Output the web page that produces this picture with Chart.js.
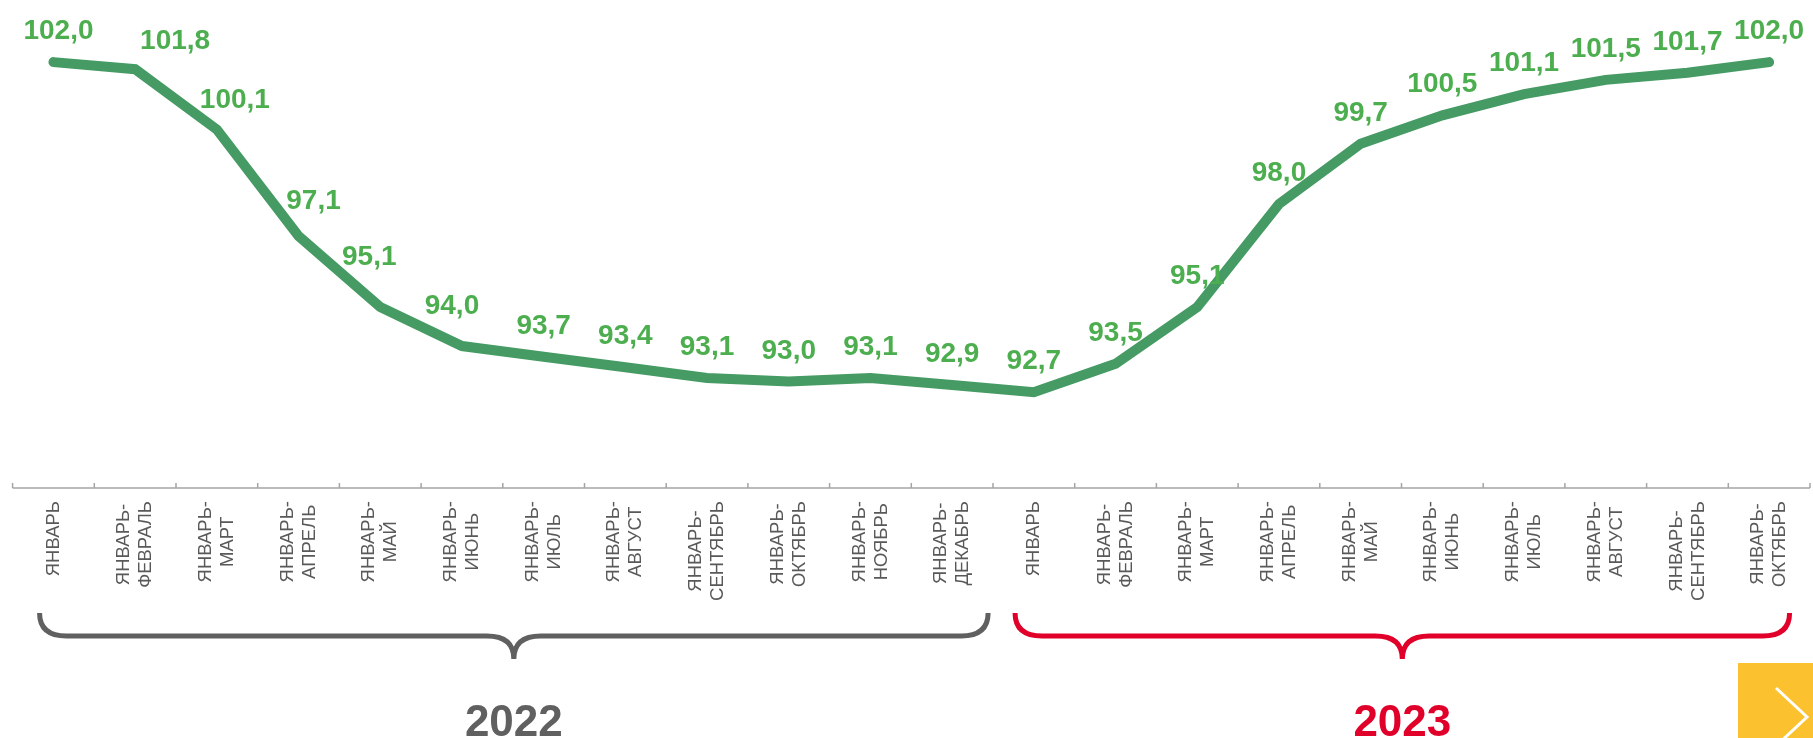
<!DOCTYPE html>
<html>
<head>
<meta charset="utf-8">
<script src="https://cdn.jsdelivr.net/npm/chart.js@4.4.1/dist/chart.umd.min.js"></script>
<style>
  html, body { margin: 0; padding: 0; background: #fff; overflow: hidden; }
  #wrap { width: 1813px; height: 738px; position: relative; }
</style>
</head>
<body>
<div id="wrap"><canvas id="chart"></canvas></div>
<script>
// period labels (cumulative since January), two lines each
const periodLabels = [
  ['ЯНВАРЬ'], ['ЯНВАРЬ-', 'ФЕВРАЛЬ'], ['ЯНВАРЬ-', 'МАРТ'], ['ЯНВАРЬ-', 'АПРЕЛЬ'],
  ['ЯНВАРЬ-', 'МАЙ'], ['ЯНВАРЬ-', 'ИЮНЬ'], ['ЯНВАРЬ-', 'ИЮЛЬ'], ['ЯНВАРЬ-', 'АВГУСТ'],
  ['ЯНВАРЬ-', 'СЕНТЯБРЬ'], ['ЯНВАРЬ-', 'ОКТЯБРЬ'], ['ЯНВАРЬ-', 'НОЯБРЬ'], ['ЯНВАРЬ-', 'ДЕКАБРЬ'],
  ['ЯНВАРЬ'], ['ЯНВАРЬ-', 'ФЕВРАЛЬ'], ['ЯНВАРЬ-', 'МАРТ'], ['ЯНВАРЬ-', 'АПРЕЛЬ'],
  ['ЯНВАРЬ-', 'МАЙ'], ['ЯНВАРЬ-', 'ИЮНЬ'], ['ЯНВАРЬ-', 'ИЮЛЬ'], ['ЯНВАРЬ-', 'АВГУСТ'],
  ['ЯНВАРЬ-', 'СЕНТЯБРЬ'], ['ЯНВАРЬ-', 'ОКТЯБРЬ']
];
const indexValues = [
  102.0, 101.8, 100.1, 97.1, 95.1, 94.0, 93.7, 93.4, 93.1, 93.0, 93.1, 92.9,
  92.7, 93.5, 95.1, 98.0, 99.7, 100.5, 101.1, 101.5, 101.7, 102.0
];
const years = ['2022', '2023'];
const yearRanges = [[0, 11], [12, 21]];

const fmt = v => v.toFixed(1).replace('.', ',');

const decorPlugin = {
  id: 'decor',
  afterDatasetsDraw(chart, args, opts) {
    const { ctx, chartArea } = chart;
    const meta = chart.getDatasetMeta(0);
    ctx.save();
    ctx.font = 'bold 28px "Liberation Sans", Arial, sans-serif';
    ctx.fillStyle = '#4cae4f';
    ctx.textAlign = 'center';
    ctx.textBaseline = 'alphabetic';
    meta.data.forEach((pt, i) => {
      const n = opts.labelNudge[i] || [0, 0];
      ctx.fillText(fmt(indexValues[i]), pt.x + n[0], pt.y - 23 + n[1]);
    });
    ctx.restore();
  },
  afterDraw(chart, args, opts) {
    const { ctx, chartArea, width, height } = chart;
    const xs = chart.scales.x;
    const base = chartArea.bottom;
    ctx.save();

    // axis line + tick marks between categories
    ctx.strokeStyle = '#a5a5a5';
    ctx.lineWidth = 1.5;
    ctx.beginPath();
    ctx.moveTo(chartArea.left, base);
    ctx.lineTo(chartArea.right, base);
    for (let i = 0; i <= periodLabels.length; i++) {
      const x = xs.getPixelForValue(i - 0.5);
      ctx.moveTo(x, base - 5);
      ctx.lineTo(x, base);
    }
    ctx.stroke();

    // rotated category labels
    ctx.font = '18.5px "Liberation Sans", Arial, sans-serif';
    ctx.fillStyle = '#595959';
    ctx.textAlign = 'center';
    ctx.textBaseline = 'middle';
    periodLabels.forEach((lines, i) => {
      const w = Math.max(...lines.map(l => ctx.measureText(l).width));
      ctx.save();
      ctx.translate(xs.getPixelForValue(i), base + 13 + w / 2);
      ctx.rotate(-Math.PI / 2);
      lines.forEach((l, j) => ctx.fillText(l, 0, (j - (lines.length - 1) / 2) * 22));
      ctx.restore();
    });

    // year braces
    const yTop = base + 125, yMid = base + 148, yTip = base + 171, r = 27;
    ctx.lineWidth = 5;
    ctx.lineCap = 'butt';
    yearRanges.forEach((rg, k) => {
      const inset = opts.braceInset[k];
      const x0 = xs.getPixelForValue(rg[0] - inset[0]);
      const x1 = xs.getPixelForValue(rg[1] + inset[1]);
      const xm = (x0 + x1) / 2;
      ctx.strokeStyle = opts.yearColors[k];
      ctx.beginPath();
      ctx.moveTo(x0, yTop);
      ctx.quadraticCurveTo(x0, yMid, x0 + r, yMid);
      ctx.lineTo(xm - r, yMid);
      ctx.quadraticCurveTo(xm, yMid, xm, yTip);
      ctx.quadraticCurveTo(xm, yMid, xm + r, yMid);
      ctx.lineTo(x1 - r, yMid);
      ctx.quadraticCurveTo(x1, yMid, x1, yTop);
      ctx.stroke();

      ctx.font = 'bold 44px "Liberation Sans", Arial, sans-serif';
      ctx.fillStyle = opts.yearColors[k];
      ctx.textBaseline = 'alphabetic';
      ctx.fillText(years[k], xm, base + 248);
    });

    // yellow "next" button
    ctx.fillStyle = '#fcc12e';
    ctx.fillRect(width - 75, height - 75, 75, 75);
    ctx.strokeStyle = '#ffffff';
    ctx.lineWidth = 3;
    ctx.beginPath();
    ctx.moveTo(width - 37, height - 50);
    ctx.lineTo(width - 6, height - 21);
    ctx.lineTo(width - 37, height + 8);
    ctx.stroke();

    ctx.restore();
  }
};

new Chart(document.getElementById('chart'), {
  type: 'line',
  data: {
    labels: periodLabels,
    datasets: [{
      data: indexValues,
      borderColor: '#459b63',
      borderWidth: 10,
      borderCapStyle: 'round',
      borderJoinStyle: 'miter',
      pointRadius: 0,
      tension: 0,
      fill: false
    }]
  },
  options: {
    responsive: true,
    maintainAspectRatio: false,
    animation: false,
    layout: { padding: { left: 12.6, right: 3, top: 0, bottom: 0 } },
    plugins: {
      legend: { display: false },
      tooltip: { enabled: false },
      decor: {
        labelNudge: { 0: [5, 0], 1: [40, 3], 2: [18, 1], 3: [15, -4], 4: [-11, -19], 5: [-10, -9] },
        braceInset: [[0.17, 0.44], [0.23, 0.25]],
        yearColors: ['#606060', '#e1002a']
      }
    },
    scales: {
      x: {
        offset: true,
        grid: { display: false },
        border: { display: false },
        ticks: { display: false },
        afterFit: s => { s.height = 250; }
      },
      y: { display: false, min: 90, max: 103.75 }
    }
  },
  plugins: [decorPlugin]
});
</script>
</body>
</html>
